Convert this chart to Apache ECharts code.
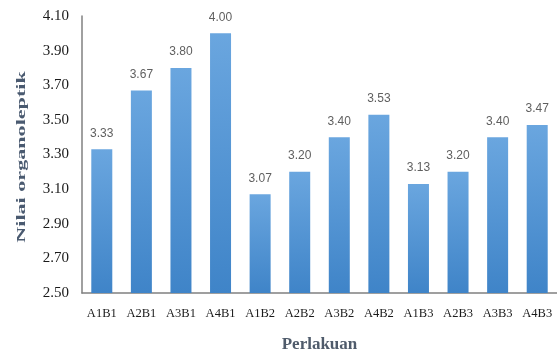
<!DOCTYPE html>
<html><head><meta charset="utf-8">
<script src="https://cdn.jsdelivr.net/npm/echarts@6/dist/echarts.min.js"></script>
<style>html,body{margin:0;padding:0;background:#fff}#c{width:557px;height:349px}</style>
</head><body><div id="c"></div>
<script>
const categories = ['A1B1','A2B1','A3B1','A4B1','A1B2','A2B2','A3B2','A4B2','A1B3','A2B3','A3B3','A4B3'];
const values = [3.33,3.67,3.80,4.00,3.07,3.20,3.40,3.53,3.13,3.20,3.40,3.47];
const yTicks = [2.50,2.70,2.90,3.10,3.30,3.50,3.70,3.90,4.10];
const xTitle = 'Perlakuan';
const yTitle = 'Nilai organoleptik';

const chart = echarts.init(document.getElementById('c'));
chart.setOption({
  animation:false,
  grid:{left:82,right:0,top:16,bottom:56,containLabel:false,outerBoundsMode:'none'},
  graphic:[{
    type:'text', x:22, y:157, rotation:Math.PI/2, scaleX:1.58, scaleY:0.95,
    style:{text:yTitle, font:'bold 14px "Liberation Serif"', fill:'#4a5a70', align:'center', verticalAlign:'middle'}
  }],
  xAxis:{
    type:'category', data:categories,
    name:xTitle, nameLocation:'middle', nameGap:43,
    nameTextStyle:{fontFamily:'Liberation Serif',fontWeight:'bold',fontSize:17,color:'#4f5b6b'},
    axisLine:{lineStyle:{color:'#808080',width:1.5}},
    axisTick:{show:false},
    axisLabel:{fontFamily:'Liberation Serif',fontSize:12.5,color:'#1a1a1a',margin:14,interval:0}
  },
  yAxis:{
    type:'value', min:yTicks[0], max:yTicks[yTicks.length-1], interval:0.2,
    axisLine:{show:true,lineStyle:{color:'#808080',width:1.5}},
    axisTick:{show:false},
    splitLine:{show:false},
    axisLabel:{fontFamily:'Liberation Serif',fontSize:15,color:'#1a1a1a',margin:13,
      formatter:v=>v.toFixed(2)}
  },
  series:[{
    type:'bar', data:values, barWidth:21,
    itemStyle:{color:new echarts.graphic.LinearGradient(0,0,0,1,[
      {offset:0,color:'#6aa6df'},{offset:1,color:'#3f84c8'}])},
    label:{show:true,position:'top',distance:10,fontFamily:'Liberation Sans',fontSize:12,color:'#5f5f5f',
      formatter:p=>p.value.toFixed(2)}
  }]
});
</script></body></html>
